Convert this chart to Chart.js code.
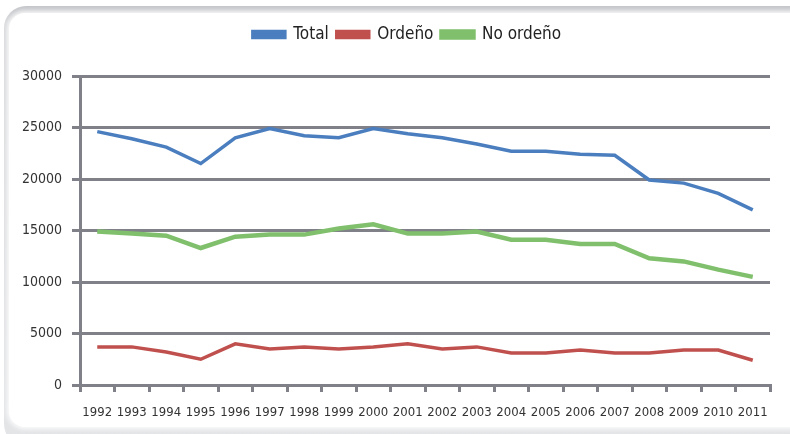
<!DOCTYPE html>
<html>
<head>
<meta charset="utf-8">
<script src="https://cdn.jsdelivr.net/npm/chart.js@4/dist/chart.umd.min.js"></script>
<style>
  html,body{ margin:0; padding:0; background:#fff; }
  #wrap{ position:relative; width:790px; height:434px; overflow:hidden; }
  #panel{ position:absolute; left:4px; top:6px; width:830px; height:440px; border-radius:22px;
    background:linear-gradient(180deg,#c4c5c9 0%,#d7d8db 4%,#e4e5e7 100%); }
  #inner{ position:absolute; left:9px; top:13px; width:830px; height:414px; border-radius:16px;
    background:#fff; box-shadow:0 0 5px 2px rgba(255,255,255,.9); }
  canvas{ position:absolute; left:0; top:0; }
</style>
</head>
<body>
<div id="wrap">
  <div id="panel"></div>
  <div id="inner"></div>
  <canvas id="ch" width="790" height="434"></canvas>
</div>
<script>
// ── DATA ──
const years=['1992','1993','1994','1995','1996','1997','1998','1999','2000','2001',
  '2002','2003','2004','2005','2006','2007','2008','2009','2010','2011'];
const total=[24600,23900,23100,21500,24000,24900,24200,24000,24900,24400,
  24000,23400,22700,22700,22400,22300,19900,19600,18600,17000];
const ordeno=[3700,3700,3200,2500,4000,3500,3700,3500,3700,4000,
  3500,3700,3100,3100,3400,3100,3100,3400,3400,2400];
const noOrdeno=[14900,14700,14500,13300,14400,14600,14600,15200,15600,14700,
  14700,14900,14100,14100,13700,13700,12300,12000,11200,10500];

const gridColor='#7f8088', tickColor='#333';
const FONT='"Liberation Sans Narrow","DejaVu Sans Condensed",sans-serif';

// extra gap below the legend, and nudge it right like the original
const legendTweak={ id:'legendTweak', beforeInit(chart){
  const lg=chart.legend, fit=lg.fit, draw=lg.draw;
  lg.fit=function(){ fit.call(lg); this.height+=23; };
  lg.draw=function(){ const c=chart.ctx; c.save(); c.translate(22,0); draw.call(lg); c.restore(); };
}};

new Chart(document.getElementById('ch'),{
  type:'line',
  data:{ labels:years, datasets:[
    { label:'Total', data:total, borderColor:'#4a7ebf', backgroundColor:'#4a7ebf', borderWidth:3.5 },
    { label:'Ordeño', data:ordeno, borderColor:'#c0504d', backgroundColor:'#c0504d', borderWidth:3.5 },
    { label:'No ordeño', data:noOrdeno, borderColor:'#80c06c', backgroundColor:'#80c06c', borderWidth:4.5 }
  ]},
  options:{ responsive:false, animation:false,
    elements:{ point:{ radius:0 }, line:{ tension:0 } },
    layout:{ padding:{ top:18, left:0, right:20, bottom:0 } },
    plugins:{
      legend:{ labels:{ color:'#222', font:{ family:FONT, size:17 }, boxWidth:32, boxHeight:6, padding:8 } },
      tooltip:{ enabled:false }
    },
    scales:{
      x:{ offset:true,
        grid:{ offset:true, drawOnChartArea:false, drawTicks:true, tickLength:7, lineWidth:3, color:gridColor },
        border:{ display:true, color:gridColor, width:3 },
        ticks:{ color:tickColor, font:{ family:FONT, size:13 }, padding:13, maxRotation:0, autoSkip:false },
        afterFit:s=>{ s.height=49; }
      },
      y:{ min:0, max:30000,
        grid:{ color:gridColor, lineWidth:3, tickLength:8 },
        border:{ display:true, color:gridColor, width:3 },
        ticks:{ stepSize:5000, color:tickColor, font:{ family:FONT, size:14 }, padding:10,
          callback:v=>String(v) },
        afterFit:s=>{ s.width=80; }
      }
    }
  },
  plugins:[legendTweak]
});
</script>
</body>
</html>
